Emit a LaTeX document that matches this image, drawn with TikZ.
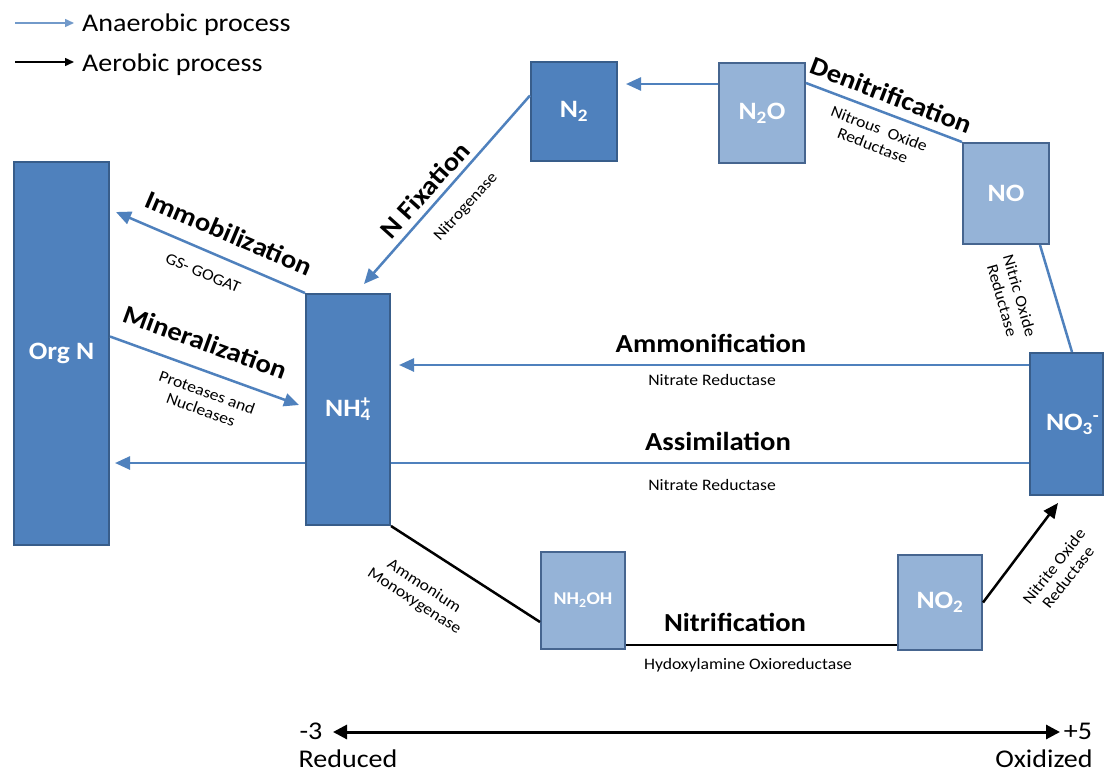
\documentclass[tikz,border=0pt]{standalone}
\usepackage{fontspec}
\setmainfont{Carlito}[FakeStretch=1.1]
\usetikzlibrary{arrows.meta,calc}
\definecolor{dkfill}{HTML}{4F81BD}
\definecolor{dkdraw}{HTML}{385D8A}
\definecolor{ltfill}{HTML}{95B3D7}
\definecolor{ltdraw}{HTML}{46658F}
\definecolor{bline}{HTML}{4F81BD}
\begin{document}
\begin{tikzpicture}[x=1pt,y=-1pt,
  darkbox/.style={draw=dkdraw, line width=2pt, fill=dkfill, text=white, font=\bfseries\fontsize{25}{27}\selectfont, inner sep=0pt},
  lightbox/.style={draw=ltdraw, line width=2pt, fill=ltfill, text=white, font=\bfseries\fontsize{25}{27}\selectfont, inner sep=0pt},
  bl/.style={draw=bline, line width=2.5pt},
  barrow/.style={bl, -{Triangle[length=15pt,width=13pt]}},
  kl/.style={draw=black, line width=2.5pt},
  karrow/.style={kl, -{Triangle[length=15pt,width=13pt]}},
  proc/.style={font=\bfseries\fontsize{26}{28}\selectfont, inner sep=0pt},
  enz/.style={font=\fontsize{16}{18}\selectfont, align=center, inner sep=0pt},
  legtext/.style={font=\fontsize{25.5}{27}\selectfont, anchor=west, inner sep=0pt}
]
\useasboundingbox (0,0) rectangle (1104,774);
\fill[white] (0,0) rectangle (1104,774);

% legend
\coordinate (la1) at (15,23);
\coordinate (la2) at (74,23);
\coordinate (lb1) at (15,62);
\coordinate (lb2) at (74,62);
\draw[draw=bline!80, line width=1.5pt, -{Triangle[length=9pt,width=8pt]}] (la1) -- (la2);
\draw[draw=black, line width=1.5pt, -{Triangle[length=9pt,width=8pt]}] (lb1) -- (lb2);
\node[legtext] (lta) at (82,25) {Anaerobic process};
\node[legtext] (ltb) at (82,65) {Aerobic process};

% assimilation line behind boxes
\node[darkbox, minimum width=95pt, minimum height=383pt] (orgn) at (61.5,353.5) {Org N};
\coordinate (assimtip) at (115,463);
\node[darkbox, minimum width=73pt, minimum height=142pt] (no3) at (1066.5,424) {\hspace{6pt}NO\textsubscript{3}\rlap{\textsuperscript{-}}};
\draw[barrow] ($(no3.west)+(0,39)$) -- (assimtip);

% boxes
\node[darkbox, minimum width=84pt, minimum height=231pt] (nh4) at (348,409.5) {NH\rlap{\textsuperscript{+}}\textsubscript{4}};
\node[darkbox, minimum width=86pt, minimum height=99pt] (n2) at (574,111.5) {N\textsubscript{2}};
\node[lightbox, minimum width=86pt, minimum height=100pt] (n2o) at (762,113) {N\textsubscript{2}O};
\node[lightbox, minimum width=86pt, minimum height=101pt] (no) at (1006,193.5) {NO};
\node[lightbox, minimum width=84pt, minimum height=97pt, font=\bfseries\fontsize{18}{20}\selectfont] (nh2oh) at (583,600) {NH\textsubscript{2}OH};
\node[lightbox, minimum width=84pt, minimum height=95pt] (no2) at (940,602.5) {NO\textsubscript{2}};

% anaerobic connectors
\coordinate (n2tip) at (626,84);
\draw[barrow] (n2o.west |- n2tip) -- (n2tip);
\draw[bl] ($(n2o.east)+(0,-30)$) -- (no.north west);
\draw[bl] ($(no3.north)+(5.5,0)$) -- ($(no.south)+(34,0)$);
\coordinate (fixtip) at (364,284);
\draw[barrow] ($(n2.west)+(0,-16)$) -- (fixtip);
\coordinate (immtip) at (116,212);
\draw[barrow] (nh4.north west) -- (immtip);
\coordinate (mintip) at (299,405);
\draw[barrow] ($(orgn.east)+(0,-17)$) -- (mintip);
\coordinate (ammtip) at (399,365);
\draw[barrow] ($(no3.west)+(0,-59)$) -- (ammtip);

% aerobic connectors
\draw[kl] (nh4.south east) -- ($(nh2oh.west)+(0,22)$);
\draw[kl] ($(nh2oh.east)+(0,45)$) -- ($(no2.west)+(0,42.5)$);
\coordinate (no3tip) at (1058,503);
\draw[karrow] (no2.east) -- (no3tip);

% process labels
\node[proc, rotate=-21] (ldenit) at (891,95) {Denitrification};
\node[enz, rotate=-21] (lnos) at (876,137) {Nitrous\ \ Oxide\\Reductase};
\node[enz, rotate=-74] (lnor) at (1011,298) {Nitric Oxide\\Reductase};
\node[proc, rotate=48] (lfix) at (425,190) {N Fixation};
\node[enz, rotate=48] (lnase) at (466,207) {Nitrogenase};
\node[proc, rotate=-23] (limm) at (229,233) {Immobilization};
\node[enz, rotate=-23] (lgs) at (203,273) {GS- GOGAT};
\node[proc, rotate=-20] (lmin) at (205,342) {Mineralization};
\node[enz, rotate=-20] (lprot) at (204,401) {Proteases and\\Nucleases};
\node[proc] (lammf) at (711,343) {Ammonification};
\node[enz] (lnr1) at (712,380) {Nitrate Reductase};
\node[proc] (lassim) at (718,441) {Assimilation};
\node[enz] (lnr2) at (712,485) {Nitrate Reductase};
\node[enz, rotate=-33] (lamo) at (419,594) {Ammonium\\Monoxygenase};
\node[proc] (lnitr) at (735,622) {Nitrification};
\node[enz] (lhao) at (748,665) {Hydoxylamine Oxioreductase};
\node[enz, rotate=52] (lnxr) at (1061,572) {Nitrite Oxide\\Reductase};

% redox axis
\coordinate (axl) at (333,732);
\coordinate (axr) at (1060,732);
\draw[draw=black, line width=3pt, {Triangle[length=14pt,width=14pt]}-{Triangle[length=14pt,width=14pt]}] (axl) -- (axr);
\node[legtext, anchor=center] (lm3) at (311,731) {-3};
\node[legtext, anchor=center] (lp5) at (1078,731) {+5};
\node[legtext, anchor=center] (lred) at (348,759) {Reduced};
\node[legtext, anchor=center] (lox) at (1044,759) {Oxidized};
\end{tikzpicture}
\end{document}
